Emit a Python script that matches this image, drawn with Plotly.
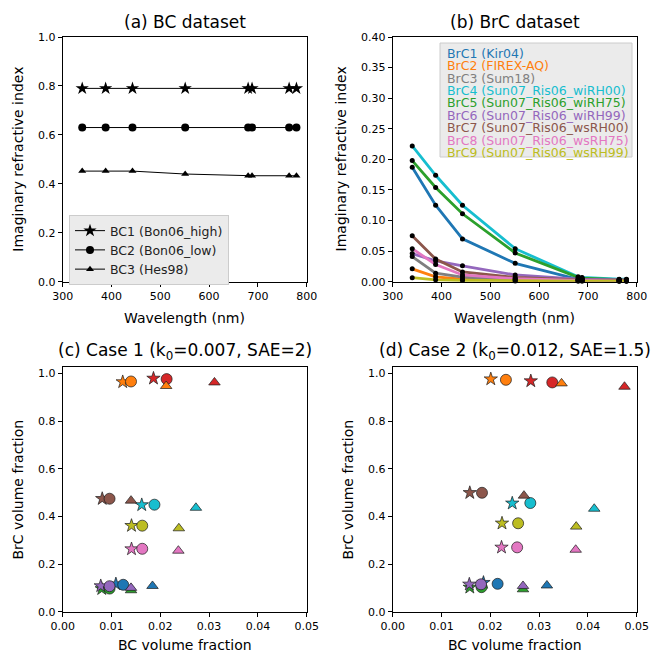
import plotly.graph_objects as go

# ---------------- data ----------------
wavelengths = [340, 388, 443, 551, 680, 688, 764, 779]

bc_names = ["BC1 (Bon06_high)", "BC2 (Bon06_low)", "BC3 (Hes98)"]
bc1_k = [0.79, 0.79, 0.79, 0.79, 0.79, 0.79, 0.79, 0.79]
bc2_k = [0.63, 0.63, 0.63, 0.63, 0.63, 0.63, 0.63, 0.63]
bc3_k = [0.452, 0.452, 0.452, 0.440, 0.433, 0.433, 0.433, 0.433]

brc_names = ["BrC1 (Kir04)", "BrC2 (FIREX-AQ)", "BrC3 (Sum18)",
             "BrC4 (Sun07_Ris06_wiRH00)", "BrC5 (Sun07_Ris06_wiRH75)",
             "BrC6 (Sun07_Ris06_wiRH99)", "BrC7 (Sun07_Ris06_wsRH00)",
             "BrC8 (Sun07_Ris06_wsRH75)", "BrC9 (Sun07_Ris06_wsRH99)"]
brc1_k = [0.187, 0.125, 0.070, 0.030, 0.004, 0.004, 0.002, 0.002]
brc2_k = [0.021, 0.008, 0.004, 0.002, 0.001, 0.001, 0.001, 0.001]
brc3_k = [0.041, 0.014, 0.0075, 0.004, 0.002, 0.002, 0.001, 0.001]
brc4_k = [0.222, 0.174, 0.125, 0.054, 0.008, 0.007, 0.004, 0.004]
brc5_k = [0.198, 0.154, 0.111, 0.047, 0.007, 0.006, 0.0035, 0.0035]
brc6_k = [0.046, 0.034, 0.026, 0.011, 0.004, 0.004, 0.003, 0.003]
brc7_k = [0.075, 0.037, 0.016, 0.007, 0.003, 0.003, 0.002, 0.002]
brc8_k = [0.054, 0.028, 0.011, 0.005, 0.002, 0.002, 0.001, 0.001]
brc9_k = [0.0065, 0.003, 0.002, 0.001, 0.001, 0.001, 0.001, 0.001]

brc_line_colors = ["#1f77b4", "#ff7f0e", "#7f7f7f", "#17becf", "#2ca02c",
                   "#9467bd", "#8c564b", "#e377c2", "#bcbd22"]
brc_scatter_colors = ["#1f77b4", "#ff7f0e", "#d62728", "#17becf", "#2ca02c",
                      "#9467bd", "#8c564b", "#e377c2", "#bcbd22"]

# Case 1: (BC volume fraction, BrC volume fraction) per BrC1..BrC9
case1_bc1_x = [0.0109, 0.0123, 0.0186, 0.0162, 0.0080, 0.0078, 0.0081, 0.0141, 0.0141]
case1_bc1_y = [0.116, 0.964, 0.979, 0.448, 0.096, 0.108, 0.474, 0.263, 0.361]
case1_bc2_x = [0.0124, 0.0140, 0.0213, 0.0188, 0.0096, 0.0096, 0.0096, 0.0163, 0.0163]
case1_bc2_y = [0.113, 0.966, 0.976, 0.449, 0.097, 0.107, 0.474, 0.264, 0.361]
case1_bc3_x = [0.0184, 0.0212, 0.0311, 0.0273, 0.0140, 0.0140, 0.0140, 0.0237, 0.0238]
case1_bc3_y = [0.108, 0.947, 0.962, 0.436, 0.090, 0.100, 0.466, 0.256, 0.350]

# Case 2
case2_bc1_x = [0.0186, 0.0201, 0.0283, 0.0245, 0.0158, 0.0157, 0.0158, 0.0223, 0.0224]
case2_bc1_y = [0.122, 0.976, 0.968, 0.455, 0.102, 0.115, 0.499, 0.270, 0.371]
case2_bc2_x = [0.0215, 0.0232, 0.0327, 0.0282, 0.0182, 0.0181, 0.0183, 0.0255, 0.0257]
case2_bc2_y = [0.117, 0.973, 0.962, 0.456, 0.103, 0.115, 0.499, 0.270, 0.371]
case2_bc3_x = [0.0316, 0.0346, 0.0475, 0.0413, 0.0267, 0.0267, 0.0269, 0.0375, 0.0376]
case2_bc3_y = [0.110, 0.958, 0.944, 0.432, 0.094, 0.108, 0.487, 0.260, 0.357]

titles = ["(a) BC dataset", "(b) BrC dataset",
          "(c) Case 1 (k<sub>0</sub>=0.007, SAE=2)",
          "(d) Case 2 (k<sub>0</sub>=0.012, SAE=1.5)"]

# ---------------- figure ----------------
W, H = 656, 655
FONT = "DejaVu Sans"

def px(x):
    return x / W

def py(y):
    return 1 - y / H

fig = go.Figure()

# panel (a)
bc_series = [bc1_k, bc2_k, bc3_k]
bc_symbols = ["star", "circle", "triangle-up"]
bc_sizes = [10, 8, 7]
for name, k, sym, sz in zip(bc_names, bc_series, bc_symbols, bc_sizes):
    fig.add_trace(go.Scatter(
        x=wavelengths, y=k, mode="lines+markers", name=name,
        line=dict(color="black", width=1),
        marker=dict(symbol=sym, size=sz, color="black", line=dict(width=0)),
        xaxis="x", yaxis="y", legend="legend", showlegend=True))

# panel (b) lines
brc_series = [brc1_k, brc2_k, brc3_k, brc4_k, brc5_k, brc6_k, brc7_k, brc8_k, brc9_k]
for name, k, c in zip(brc_names, brc_series, brc_line_colors):
    fig.add_trace(go.Scatter(
        x=wavelengths, y=k, mode="lines", name=name,
        line=dict(color=c, width=2.8),
        xaxis="x2", yaxis="y2", showlegend=False))
for name, k in zip(brc_names, brc_series):
    fig.add_trace(go.Scatter(
        x=wavelengths, y=k, mode="markers", name=name,
        marker=dict(color="black", size=5),
        xaxis="x2", yaxis="y2", showlegend=False, cliponaxis=False))

# panels (c), (d)
scatter_sizes = [10, 11, 10]
case1 = [(case1_bc1_x, case1_bc1_y), (case1_bc2_x, case1_bc2_y), (case1_bc3_x, case1_bc3_y)]
case2 = [(case2_bc1_x, case2_bc1_y), (case2_bc2_x, case2_bc2_y), (case2_bc3_x, case2_bc3_y)]
for case, xa, ya in [(case1, "x3", "y3"), (case2, "x4", "y4")]:
    for (xs, ys), sym, sz, nm in zip(case, bc_symbols, scatter_sizes, bc_names):
        fig.add_trace(go.Scatter(
            x=xs, y=ys, mode="markers", name=nm,
            marker=dict(symbol=sym, size=sz, color=brc_scatter_colors,
                        line=dict(color="rgba(30,30,30,0.9)", width=0.8)),
            xaxis=xa, yaxis=ya, showlegend=False))

axis_common = dict(showline=True, linecolor="black", linewidth=1, mirror=True,
                   ticks="outside", ticklen=4, tickwidth=1, tickcolor="black",
                   showgrid=False, zeroline=False, automargin=False,
                   tickfont=dict(family=FONT, size=11, color="black"))

xa_dom = [px(62.7), px(306.7)]
xb_dom = [px(392.7), px(636.7)]
ytop_dom = [py(281.7), py(37)]
ybot_dom = [py(611.7), py(366.7)]

fig.update_layout(
    width=W, height=H, margin=dict(l=0, r=0, t=0, b=0, autoexpand=False),
    paper_bgcolor="white", plot_bgcolor="white",
    font=dict(family=FONT, color="black"),
    xaxis=dict(domain=xa_dom, range=[300, 800], dtick=100, anchor="y", **axis_common),
    yaxis=dict(domain=ytop_dom, range=[0, 1], dtick=0.2, tickformat=".1f", anchor="x", **axis_common),
    xaxis2=dict(domain=xb_dom, range=[300, 800], dtick=100, anchor="y2", **axis_common),
    yaxis2=dict(domain=ytop_dom, range=[0, 0.4], dtick=0.05, tickformat=".2f", anchor="x2", **axis_common),
    xaxis3=dict(domain=xa_dom, range=[0, 0.05], dtick=0.01, tickformat=".2f", anchor="y3", **axis_common),
    yaxis3=dict(domain=ybot_dom, range=[0, 1.028], tick0=0, dtick=0.2, tickformat=".1f", anchor="x3", **axis_common),
    xaxis4=dict(domain=xb_dom, range=[0, 0.05], dtick=0.01, tickformat=".2f", anchor="y4", **axis_common),
    yaxis4=dict(domain=ybot_dom, range=[0, 1.028], tick0=0, dtick=0.2, tickformat=".1f", anchor="x4", **axis_common),
    legend=dict(x=px(69), y=py(215), xanchor="left", yanchor="top",
                bgcolor="rgb(235,235,235)", bordercolor="rgb(204,204,204)", borderwidth=1,
                font=dict(family=FONT, size=12.5, color="#222222"),
                tracegroupgap=0, itemwidth=30),
    showlegend=True,
)

ann = []
# titles
for t, cx, cy in zip(titles, [184.7, 514.7, 184.7, 514.7], [21.7, 21.7, 351.7, 351.7]):
    ann.append(dict(text=t, x=px(cx), y=py(cy), xref="paper", yref="paper",
                    xanchor="center", yanchor="middle", showarrow=False,
                    font=dict(family=FONT, size=17, color="black")))
# axis labels
for t, cx, cy in [("Wavelength (nm)", 184.7, 318), ("Wavelength (nm)", 514.7, 318),
                  ("BC volume fraction", 184.7, 645), ("BC volume fraction", 514.7, 645)]:
    ann.append(dict(text=t, x=px(cx), y=py(cy), xref="paper", yref="paper",
                    xanchor="center", yanchor="middle", showarrow=False,
                    font=dict(family=FONT, size=14, color="black")))
for t, cx, cy in [("Imaginary refractive index", 18.3, 159.4),
                  ("Imaginary refractive index", 341, 159.4),
                  ("BrC volume fraction", 18.3, 489.2),
                  ("BrC volume fraction", 348.3, 489.2)]:
    ann.append(dict(text=t, x=px(cx), y=py(cy), xref="paper", yref="paper",
                    xanchor="center", yanchor="middle", showarrow=False, textangle=-90,
                    font=dict(family=FONT, size=14, color="black")))
# legend (b): coloured text entries
for i, (nm, c) in enumerate(zip(brc_names, brc_line_colors)):
    ann.append(dict(text=nm, x=px(445), y=py(53.3 + 12.4 * i), xref="paper", yref="paper",
                    xanchor="left", yanchor="middle", showarrow=False,
                    font=dict(family=FONT, size=12.5, color=c)))
fig.update_layout(annotations=ann)

fig.add_shape(type="rect", xref="paper", yref="paper",
              x0=px(440), x1=px(632), y0=py(157), y1=py(43),
              fillcolor="rgb(235,235,235)", line=dict(color="rgb(204,204,204)", width=1),
              layer="above")

fig.write_html("out.html", config={"displayModeBar": False},
               post_script="document.body.style.margin='0';document.body.style.overflow='hidden';")
